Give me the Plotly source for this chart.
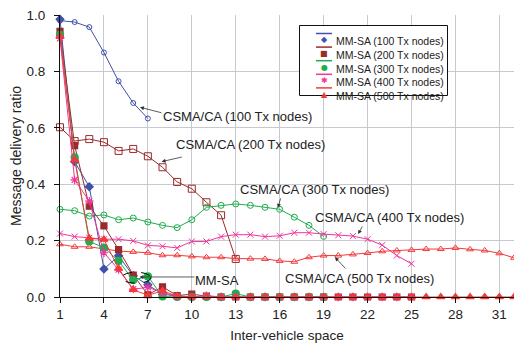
import plotly.graph_objects as go

# ---------------- data ----------------
x_tick_vals = [1, 4, 7, 10, 13, 16, 19, 22, 25, 28, 31]
y_tick_vals = [0.0, 0.2, 0.4, 0.6, 0.8, 1.0]
node_counts = [100, 200, 300, 400, 500]

mmsa_100 = [0.985, 0.48, 0.391, 0.099, 0.146, 0.075, 0.043, 0.01, 0.003, 0.0]
mmsa_200 = [0.942, 0.537, 0.322, 0.252, 0.168, 0.078, 0.008, 0.036, 0.005, 0.01,
            0.003, 0.0, 0.0, 0.0, 0.0, 0.0, 0.0, 0.0, 0.0, 0.0, 0.0, 0.0, 0.0, 0.0, 0.0]
mmsa_300 = [0.93, 0.495, 0.197, 0.175, 0.128, 0.06, 0.073, 0.002, 0.0, 0.0,
            0.0, 0.0, 0.012, 0.0, 0.0, 0.0, 0.0, 0.0, 0.0]
mmsa_400 = [0.917, 0.415, 0.34, 0.157, 0.097, 0.028, 0.034, 0.016, 0.002, 0.0,
            0.005, 0.0, 0.0, 0.0, 0.0, 0.0, 0.0, 0.0, 0.0, 0.0, 0.0, 0.0, 0.0, 0.0, 0.0]
mmsa_500 = [0.925, 0.486, 0.208, 0.204, 0.101, 0.026, 0.006, 0.022, 0.003, 0.0,
            0.0, 0.0, 0.0, 0.0, 0.0, 0.0, 0.0, 0.0, 0.0, 0.0, 0.0, 0.0, 0.0, 0.0,
            0.0, 0.0, 0.0, 0.0, 0.0, 0.0, 0.0, 0.0]

csma_100 = [0.98, 0.975, 0.957, 0.867, 0.765, 0.688, 0.633]
csma_200 = [0.602, 0.553, 0.56, 0.549, 0.518, 0.525, 0.499, 0.46, 0.408, 0.384,
            0.336, 0.29, 0.135]
csma_300 = [0.311, 0.306, 0.287, 0.291, 0.274, 0.28, 0.266, 0.254, 0.246, 0.274,
            0.318, 0.325, 0.33, 0.325, 0.318, 0.311, 0.283, 0.254, 0.215]
csma_400 = [0.225, 0.214, 0.21, 0.205, 0.205, 0.199, 0.183, 0.18, 0.174, 0.197,
            0.197, 0.214, 0.221, 0.221, 0.214, 0.217, 0.228, 0.228, 0.223, 0.219,
            0.216, 0.205, 0.184, 0.147, 0.118]
csma_500 = [0.187, 0.178, 0.178, 0.17, 0.163, 0.16, 0.157, 0.148, 0.148, 0.144,
            0.141, 0.141, 0.136, 0.136, 0.135, 0.128, 0.125, 0.141, 0.147, 0.147,
            0.151, 0.156, 0.162, 0.165, 0.167, 0.17, 0.17, 0.174, 0.169, 0.165,
            0.155, 0.139]

mmsa_series = [mmsa_100, mmsa_200, mmsa_300, mmsa_400, mmsa_500]
csma_series = [csma_100, csma_200, csma_300, csma_400, csma_500]
mmsa_names = [f"MM-SA ({n} Tx nodes)" for n in node_counts]
csma_names = [f"CSMA/CA ({n} Tx nodes)" for n in node_counts]

# ---------------- style ----------------
colors = ["#4050AC", "#9B2A2A", "#1FAD4E", "#F0369B", "#F23A3A"]
mm_symbols = ["diamond", "square", "circle", "asterisk-open", "triangle-up"]
mm_sizes = [6, 6, 7, 7, 7]
cs_symbols = ["circle-open", "square-open", "circle-open", "x-thin-open", "triangle-up-open"]
cs_sizes = [5, 7, 6, 6, 6]
legend_glyphs = ["◆", "■", "●", "✱", "▲"]
FONT = "Liberation Sans, Arial, sans-serif"

fig = go.Figure()

for name, ys, col, sym, sz in zip(csma_names, csma_series, colors, cs_symbols, cs_sizes):
    fig.add_trace(go.Scatter(
        x=list(range(1, len(ys) + 1)), y=ys, name=name, mode="lines+markers",
        line=dict(color=col, width=1),
        marker=dict(symbol=sym, size=sz, color=col, line=dict(color=col, width=1)),
        cliponaxis=False, showlegend=False))

for name, ys, col, sym, sz in zip(mmsa_names, mmsa_series, colors, mm_symbols, mm_sizes):
    fig.add_trace(go.Scatter(
        x=list(range(1, len(ys) + 1)), y=ys, name=name, mode="lines+markers",
        line=dict(color=col, width=1),
        marker=dict(symbol=sym, size=sz, color=col, line=dict(color=col, width=1.2)),
        cliponaxis=False, showlegend=False))

# ---------------- annotations ----------------
label_pos = [(13.15, 0.639), (14.04, 0.541), (18.38, 0.382), (23.51, 0.283), (21.44, 0.066)]
arrow_tail = [(8.03, 0.652), (9.42, 0.4975), (16.09, 0.355), (21.7, 0.255), (20.59, 0.096)]
arrow_head = [(6.46, 0.673), (7.94, 0.48), (15.88, 0.316), (21.36, 0.223), (19.77, 0.141)]

annotations = []
for name, (lx, ly), (tx, ty), (hx, hy) in zip(csma_names, label_pos, arrow_tail, arrow_head):
    annotations.append(dict(x=lx, y=ly, xref="x", yref="y", text=name, showarrow=False,
                            font=dict(family=FONT, size=13, color="#222")))
    annotations.append(dict(x=hx, y=hy, ax=tx, ay=ty, xref="x", yref="y", axref="x", ayref="y",
                            text="", showarrow=True, arrowhead=2, arrowsize=1,
                            arrowwidth=0.8, arrowcolor="#333"))

annotations.append(dict(x=11.72, y=0.060, xref="x", yref="y", text="MM-SA", showarrow=False,
                        font=dict(family=FONT, size=13, color="#222")))
annotations.append(dict(x=6.43, y=0.071, ax=10.28, ay=0.071, xref="x", yref="y", axref="x", ayref="y",
                        text="", showarrow=True, arrowhead=2, arrowsize=1,
                        arrowwidth=0.8, arrowcolor="#333"))

shapes = [dict(type="circle", xref="x", yref="y", x0=5.21, x1=7.19, y0=0.049, y1=0.088,
               line=dict(color="#000", width=1, dash="dash"), layer="above")]

# manual compact legend
L, T = 60, 15
PW, PH = 454, 282
def px(xp):
    return (xp - L) / PW
def py(yp):
    return (T + PH - yp) / PH

shapes.append(dict(type="rect", xref="paper", yref="paper",
                   x0=px(299.5), x1=px(447.5), y0=py(95.5), y1=py(25.5),
                   line=dict(color="#111", width=1), fillcolor="white", layer="above"))
for i, (name, col, g) in enumerate(zip(mmsa_names, colors, legend_glyphs)):
    rowy = 33.5 + 13.6 * i
    shapes.append(dict(type="line", xref="paper", yref="paper",
                       x0=px(316), x1=px(332), y0=py(rowy), y1=py(rowy),
                       line=dict(color=col, width=1.5), layer="above"))
    annotations.append(dict(x=px(324), y=py(rowy), xref="paper", yref="paper", text=g,
                            showarrow=False, font=dict(family="DejaVu Sans", size=8, color=col)))
    annotations.append(dict(x=px(334), y=py(rowy), xref="paper", yref="paper", text=name,
                            xanchor="left", showarrow=False,
                            font=dict(family=FONT, size=10.5, color="#222")))

fig.update_layout(
    width=514, height=343,
    margin=dict(l=L, r=0, t=T, b=343 - T - PH),
    paper_bgcolor="white", plot_bgcolor="white",
    font=dict(family=FONT, size=13, color="#222"),
    annotations=annotations, shapes=shapes,
    showlegend=False,
)
fig.update_xaxes(
    range=[1, 32], tickvals=x_tick_vals, showgrid=True, gridcolor="#C8C8D0", gridwidth=1,
    showline=True, linecolor="#111", linewidth=1, ticks="outside", ticklen=5, tickcolor="#111",
    zeroline=False, tickfont=dict(size=13.5),
    title=dict(text="Inter-vehicle space", font=dict(size=13.5), standoff=9),
)
fig.update_yaxes(
    range=[0, 1.0], tickvals=y_tick_vals, tickformat=".1f", showgrid=True, gridcolor="#C8C8D0",
    gridwidth=1, showline=True, linecolor="#111", linewidth=1, ticks="outside", ticklen=5,
    tickcolor="#111", zeroline=False, tickfont=dict(size=13.5), ticklabelstandoff=6,
    title=dict(text="Message delivery ratio", font=dict(size=14), standoff=1),
)

fig.write_html("out.html")
